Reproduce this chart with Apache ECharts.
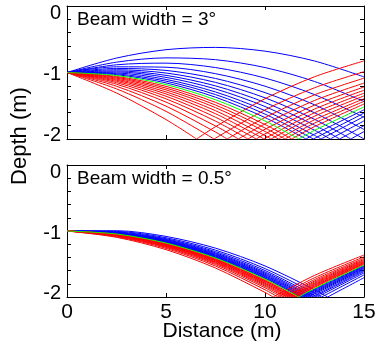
<!DOCTYPE html>
<html><head><meta charset="utf-8">
<script src="https://cdn.jsdelivr.net/npm/echarts@6/dist/echarts.min.js"></script>
<style>html,body{margin:0;padding:0;background:#fff}#c{width:383px;height:348px}</style>
</head><body><div id="c"></div>
<script>
// Distance grid (m) at which ray depths are read
const distance = [0, 2.5, 5, 7.5, 10, 12.5, 15];
const xTicks = [0, 5, 10, 15];
const yTicks = [0, -1, -2];
const titles = ['Beam width = 3°', 'Beam width = 0.5°'];

// Top panel (beam width 3°): depth (m) of each ray at the distance grid; bounce = distance where ray hits -2 m
const topBlue = [
 [-1, -0.7829, -0.657, -0.6224, -0.679, -0.8269, -1.066],
 [-1, -0.8445, -0.7802, -0.8072, -0.9254, -1.1349, -1.4356],
 [-1, -0.884, -0.8592, -0.9256, -1.0833, -1.3323, -1.6725],
 [-1, -0.9146, -0.9205, -1.0176, -1.2059, -1.4855, -1.8564],
 [-1, -0.9387, -0.9686, -1.0897, -1.3021, -1.6058, -1.999],
 [-1, -0.9583, -1.0079, -1.1487, -1.3808, -1.7041, -1.8877],
 [-1, -0.9758, -1.0429, -1.2012, -1.4507, -1.7915, -1.7985],
 [-1, -0.9911, -1.0734, -1.247, -1.5118, -1.8679, -1.7274],
 [-1, -1.0064, -1.104, -1.2928, -1.5729, -1.9443, -1.6619],
 [-1, -1.0195, -1.1302, -1.3321, -1.6253, -1.9902, -1.61],
 [-1, -1.0325, -1.1563, -1.3714, -1.6776, -1.9275, -1.5615]
];
const topBlueBounce = [null, null, null, null, null, 14.338, 13.773, 13.294, 12.829, 12.443, 12.068];
const topRed = [
 [-1, -1.0587, -1.2087, -1.4499, -1.7824, -1.8132, -1.4734],
 [-1, -1.0718, -1.2349, -1.4892, -1.8347, -1.761, -1.433],
 [-1, -1.0849, -1.2611, -1.5285, -1.8871, -1.7114, -1.3946],
 [-1, -1.1002, -1.2916, -1.5743, -1.9482, -1.657, -1.3521],
 [-1, -1.1155, -1.3222, -1.6201, -1.999, -1.6055, -1.3115],
 [-1, -1.1329, -1.3571, -1.6725, -1.9237, -1.5496, -1.2667],
 [-1, -1.1526, -1.3965, -1.7316, -1.8531, -1.4899, -1.2179],
 [-1, -1.1767, -1.4446, -1.8037, -1.7725, -1.4204, -1.1596],
 [-1, -1.2073, -1.5059, -1.8957, -1.6769, -1.3356, -1.0856],
 [-1, -1.2468, -1.5849, -1.986, -1.562, -1.2294, -0.9881],
 [-1, -1.3084, -1.708, -1.8145, -1.3936, -1.0639, -0.8255]
];
const topRedBounce = [11.351, 11.009, 10.677, 10.305, 9.947, 9.554, 9.135, 8.653, 8.085, 7.425, 6.542];
const topGreen = [-1, -1.0456, -1.1825, -1.4106, -1.73, -1.8686, -1.5161];
const topGreenBounce = 11.704;

// Bottom panel (beam width 0.5°)
const botBlue = [
 [-1, -1.0426, -1.1764, -1.4015, -1.7178, -1.882, -1.5264],
 [-1, -1.0395, -1.1703, -1.3923, -1.7056, -1.8957, -1.537],
 [-1, -1.0365, -1.1642, -1.3831, -1.6934, -1.9095, -1.5476],
 [-1, -1.0334, -1.1581, -1.374, -1.6811, -1.9236, -1.5585],
 [-1, -1.0304, -1.152, -1.3648, -1.6689, -1.9377, -1.5694],
 [-1, -1.0269, -1.145, -1.3543, -1.655, -1.9542, -1.5821],
 [-1, -1.0229, -1.1371, -1.3426, -1.6392, -1.9731, -1.5967],
 [-1, -1.0186, -1.1284, -1.3295, -1.6218, -1.9947, -1.6134],
 [-1, -1.0129, -1.1171, -1.3124, -1.5991, -1.977, -1.6355],
 [-1, -1.0055, -1.1022, -1.2902, -1.5694, -1.9399, -1.6656],
 [-1, -0.9954, -1.0821, -1.2601, -1.5293, -1.8897, -1.708]
];
const botBlueBounce = [11.788, 11.873, 11.958, 12.044, 12.130, 12.229, 12.342, 12.469, 12.635, 12.856, 13.159];
const botRed = [
 [-1, -1.0487, -1.1886, -1.4198, -1.7422, -1.8554, -1.5059],
 [-1, -1.0517, -1.1947, -1.4289, -1.7544, -1.8424, -1.4958],
 [-1, -1.0548, -1.2008, -1.4381, -1.7667, -1.8295, -1.486],
 [-1, -1.0578, -1.2069, -1.4473, -1.7789, -1.8168, -1.4761],
 [-1, -1.0609, -1.213, -1.4564, -1.7911, -1.8043, -1.4665],
 [-1, -1.0644, -1.22, -1.4669, -1.8051, -1.7901, -1.4556],
 [-1, -1.0683, -1.2279, -1.4787, -1.8208, -1.7746, -1.4436],
 [-1, -1.0727, -1.2366, -1.4918, -1.8382, -1.7575, -1.4303],
 [-1, -1.0784, -1.248, -1.5088, -1.8609, -1.7359, -1.4136],
 [-1, -1.0858, -1.2628, -1.5311, -1.8906, -1.7083, -1.3922],
 [-1, -1.0958, -1.2829, -1.5612, -1.9307, -1.6723, -1.3641]
];
const botRedBounce = [11.621, 11.538, 11.456, 11.374, 11.293, 11.201, 11.099, 10.986, 10.842, 10.656, 10.410];
const botGreen = [-1, -1.0456, -1.1825, -1.4106, -1.73, -1.8686, -1.5161];
const botGreenBounce = 11.704;
const bottomDepth = -2;

const chart = echarts.init(document.getElementById('c'));
const F = 'Liberation Sans';
function segments(depths, bounce) {
  const pre = [], post = [];
  distance.forEach((x, i) => {
    if (bounce != null && Math.abs(x - bounce) < 0.25) return;
    (bounce == null || x < bounce ? pre : post).push([x, depths[i]]);
  });
  if (bounce == null) return [pre];
  pre.push([bounce, bottomDepth]);
  post.unshift([bounce, bottomDepth]);
  return [pre, post];
}
const series = [];
function addRays(rays, bounces, color, idx) {
  rays.forEach((r, j) => segments(r, bounces[j]).forEach(seg => series.push({
    type: 'line', data: seg, xAxisIndex: idx, yAxisIndex: idx, smooth: 0.3,
    showSymbol: false, symbol: 'none', lineStyle: { color, width: 1 },
    animation: false, silent: true, clip: true
  })));
}
addRays(topBlue, topBlueBounce, '#0000ff', 0);
addRays(topRed, topRedBounce, '#ff0000', 0);
addRays([topGreen], [topGreenBounce], '#00ff00', 0);
addRays(botBlue, botBlueBounce, '#0000ff', 1);
addRays(botRed, botRedBounce, '#ff0000', 1);
addRays([botGreen], [botGreenBounce], '#00ff00', 1);

function yLab(v) {
  const n = yTicks.find(t => Math.abs(v - t) < 1e-6);
  if (n === undefined) return '';
  return '{' + (n === 0 ? 'a' : n === -1 ? 'b' : 'c') + '|' + n + '}';
}
const rs = { fontSize: 20, fontFamily: F, color: '#000' };
const rich = { a: Object.assign({ padding: [14, 0, 0, 0] }, rs), b: Object.assign({ padding: [4, 0, 0, 0] }, rs), c: Object.assign({ padding: [0, 0, 8, 0] }, rs) };
function xAx(g, pos, lab) {
  return { type: 'value', gridIndex: g, position: pos, min: xTicks[0], max: xTicks[xTicks.length - 1], interval: 5,
    splitLine: { show: false }, axisLine: { show: true, onZero: false, lineStyle: { color: '#000', width: 1 } },
    axisTick: { show: true, inside: true, length: 4, lineStyle: { color: '#000' } },
    axisLabel: { show: lab, margin: 5, fontSize: 21, fontFamily: F, color: '#000' } };
}
function yAx(g, pos, lab) {
  return { type: 'value', gridIndex: g, position: pos, min: -2, max: 0, interval: 0.2,
    splitLine: { show: false }, axisLine: { show: true, onZero: false, lineStyle: { color: '#000', width: 1 } },
    axisTick: { show: true, inside: true, length: 4, lineStyle: { color: '#000' } },
    axisLabel: { show: lab, margin: 6, formatter: yLab, rich, showMinLabel: true, showMaxLabel: true } };
}
chart.setOption({
  animation: false,
  grid: [{ left: 67, top: 6, width: 297, height: 133 }, { left: 67, top: 165, width: 297, height: 132 }],
  xAxis: [xAx(0, 'bottom', false), xAx(1, 'bottom', true), xAx(0, 'top', false), xAx(1, 'top', false)],
  yAxis: [yAx(0, 'left', true), yAx(1, 'left', true), yAx(0, 'right', false), yAx(1, 'right', false)],
  series,
  graphic: [
    { type: 'text', x: 77, y: 10, style: { text: titles[0], font: '19px "Liberation Sans"', fill: '#000' } },
    { type: 'text', x: 77, y: 169, style: { text: titles[1], font: '19px "Liberation Sans"', fill: '#000' } },
    { type: 'text', x: 222, y: 321, style: { text: 'Distance (m)', font: '21px "Liberation Sans"', fill: '#000', textAlign: 'center' } },
    { type: 'text', x: 9, y: 136, rotation: Math.PI / 2, style: { text: 'Depth (m)', font: '22px "Liberation Sans"', fill: '#000', textAlign: 'center' } }
  ]
});
</script></body></html>
